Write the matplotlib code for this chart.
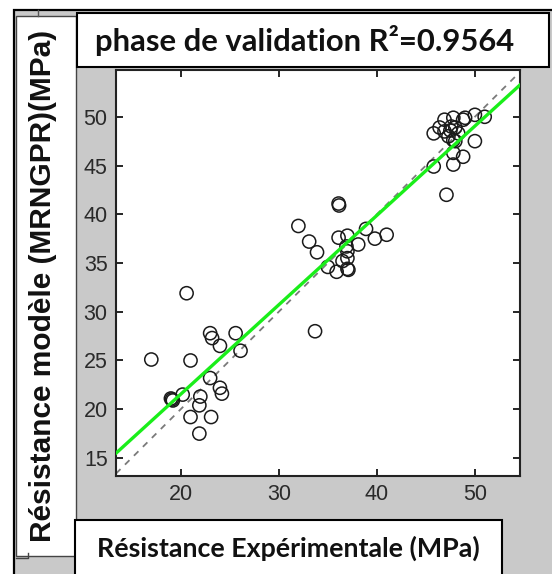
import matplotlib
matplotlib.use("Agg")
import matplotlib.pyplot as plt
from matplotlib.patches import Rectangle
from matplotlib.lines import Line2D

# ---- data ----
x_exp = [20.6, 17.0, 21.0, 23.0, 23.2, 24.0, 25.6, 26.1, 23.0, 24.0, 24.2, 19.0, 19.2, 19.1,
         20.2, 22.0, 21.9, 21.0, 23.1, 21.9,
         33.7, 36.1, 36.15, 32.0, 33.1, 33.9, 35.0, 35.9, 36.1, 37.0, 36.9, 37.0, 37.0, 37.0,
         37.1, 38.1, 38.9, 39.8, 41.0, 36.5,
         47.1, 45.8, 47.8, 48.8, 47.8, 50.0, 45.8, 46.9, 47.6, 47.8, 46.9, 49.0, 50.0, 51.0,
         48.3, 48.0, 46.4, 47.3, 47.8, 48.8, 47.5, 48.0]
y_mod = [31.9, 25.1, 25.0, 27.8, 27.3, 26.5, 27.8, 26.0, 23.2, 22.2, 21.6, 21.1, 20.9, 21.0,
         21.5, 21.3, 20.4, 19.2, 19.2, 17.5,
         28.0, 41.1, 40.9, 38.8, 37.2, 36.1, 34.6, 34.1, 37.6, 37.8, 36.7, 36.2, 35.5, 34.4,
         34.3, 36.9, 38.5, 37.5, 37.9, 35.2,
         42.0, 44.9, 45.1, 45.9, 46.3, 47.5, 48.3, 48.5, 49.0, 49.9, 49.7, 49.9, 50.2, 50.0,
         48.3, 47.5, 48.9, 48.0, 47.6, 49.7, 48.6, 48.9]
fit_slope = 0.917
fit_intercept = 3.2
x_ticks = [20, 30, 40, 50]
y_ticks = [15, 20, 25, 30, 35, 40, 45, 50]
x_range = (13.4, 54.6)
y_range = (13.15, 54.8)
title_text = "phase de validation R\u00b2=0.9564"
xlabel_text = "Résistance Expérimentale (MPa)"
ylabel_text = "Résistance modèle (MRNGPR)(MPa)"

W, H = 552, 574
fig = plt.figure(figsize=(W / 100, H / 100), dpi=100)
fig.patch.set_facecolor("white")


def fbox(x0, y0, x1, y1):
    return (x0 / W, 1 - y1 / H, (x1 - x0) / W, (y1 - y0) / H)


def add_rect(x0, y0, x1, y1, fc, ec, lw, z=0):
    l, b, w, h = fbox(x0, y0, x1, y1)
    fig.patches.append(Rectangle((l, b), w, h, transform=fig.transFigure,
                                 facecolor=fc, edgecolor=ec, linewidth=lw, zorder=z))


# background gray figure with black outer border
add_rect(14, 10, 560, 580, "#c9c9c9", "black", 1.6, 0)
# small top-left strip detail
fig.lines.append(Line2D([38 / W, 38 / W], [1 - 10 / H, 1 - 16 / H], transform=fig.transFigure,
                        color="#555555", lw=1))
# y-label white box
add_rect(16, 16, 76, 556, "white", "#444444", 1.0, 1)
fig.lines.append(Line2D([16 / W, 28 / W, 28 / W], [1 - 558 / H, 1 - 558 / H, 1 - 553 / H],
                        transform=fig.transFigure, color="#444444", lw=1))
# title box
add_rect(77, 13, 549, 67, "white", "black", 1.5, 1)
# xlabel box
add_rect(75, 520, 502, 580, "white", "black", 1.5, 1)

fig.text(95 / W, 1 - 40 / H, title_text, fontfamily="Lato", fontweight="bold",
         fontsize=22.3, ha="left", va="center", color="#111111")
fig.text(97 / W, 1 - 548 / H, xlabel_text, fontfamily="Lato", fontweight="bold",
         fontsize=19.3, ha="left", va="center", color="#111111")
fig.text(43 / W, 1 - 286 / H, ylabel_text, fontfamily="Liberation Sans", fontweight="bold",
         fontsize=21.5, ha="center", va="center", rotation=90, color="#111111")

# axes
ax = fig.add_axes(fbox(116, 70, 520, 476))
ax.set_facecolor("white")
ax.set_zorder(2)
ax.scatter(x_exp, y_mod, s=90, facecolors="none", edgecolors="#1a1a1a", linewidths=1.1, zorder=3)
xl = list(x_range)
ax.plot(xl, [fit_slope * v + fit_intercept for v in xl], color="#1aee1a", lw=2.4, zorder=4)
ax.plot(xl, xl, color="#7a7a7a", lw=1.3, ls=(0, (3.5, 3.5)), zorder=2)
ax.set_xlim(*x_range)
ax.set_ylim(*y_range)
ax.set_xticks(x_ticks)
ax.set_yticks(y_ticks)
ax.tick_params(direction="in", length=5, width=1.2, top=True, right=True,
               labelsize=15.5, labelcolor="#2a2a2a", pad=6)
for lab in ax.get_xticklabels() + ax.get_yticklabels():
    lab.set_fontfamily("Liberation Sans")
for sp in ax.spines.values():
    sp.set_linewidth(1.5)
    sp.set_color("#222222")

fig.savefig("out.png", dpi=100)
